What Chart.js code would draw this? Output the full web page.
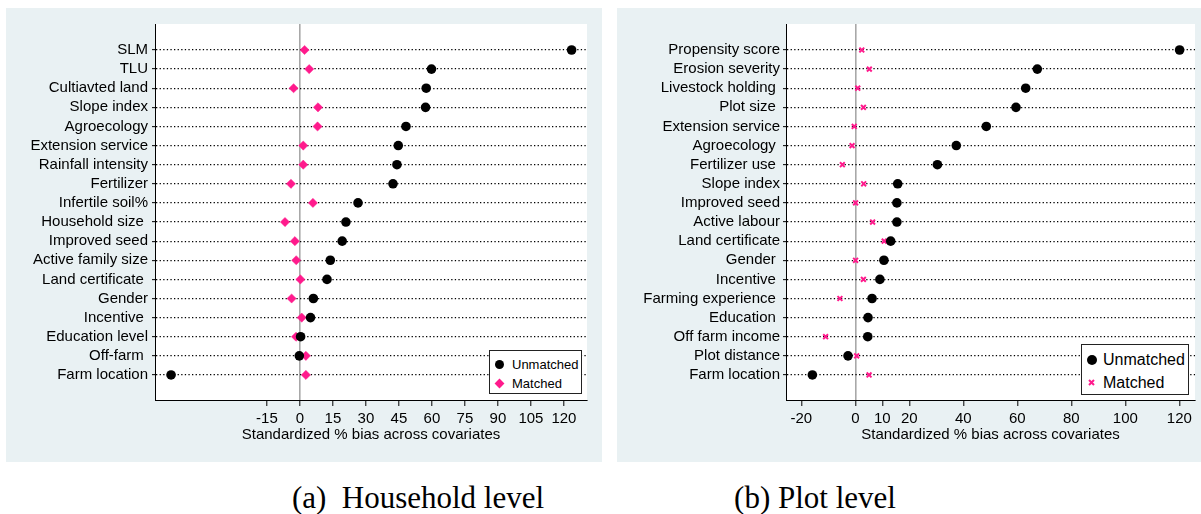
<!DOCTYPE html>
<html>
<head>
<meta charset="utf-8">
<title>Standardized % bias across covariates</title>
<script src="https://cdn.jsdelivr.net/npm/chart.js@4.4.1/dist/chart.umd.min.js"></script>
<style>
  html, body { margin: 0; padding: 0; background: #fff; }
  body {
    width: 1201px; height: 514px; position: relative; overflow: hidden;
    font-family: "Liberation Sans", Arial, sans-serif;
  }
  canvas { position: absolute; top: 8px; }
  #chart-a { left: 6px; }
  #chart-b { left: 617px; }
  .legend {
    position: absolute; background: #fff; border: 1px solid #222;
    box-sizing: border-box; color: #000;
  }
  .legend .mk, .legend .txt { position: absolute; }
  .legend .txt { white-space: nowrap; line-height: 1; transform: translateY(-50%); }
  .caption {
    position: absolute; top: 482px; line-height: 31px; font-size: 31px;
    font-family: "Liberation Serif", "Times New Roman", serif;
    white-space: pre; transform: translateX(-50%); color: #000;
  }
</style>
</head>
<body>
<canvas id="chart-a" width="596" height="454"></canvas>
<canvas id="chart-b" width="584" height="454"></canvas>
<div class="legend" id="legend-a" style="left:489px; top:350px; width:93px; height:44px;"></div>
<div class="legend" id="legend-b" style="left:1081px; top:344px; width:108px; height:51px;"></div>
<div class="caption" style="left:418px;">(a)  Household level</div>
<div class="caption" style="left:815px;">(b) Plot level</div>

<script>
// ─── Data ────────────────────────────────────────────────────────────────────

const hhLabels = [
  "SLM", "TLU", "Cultiavted land", "Slope index", "Agroecology",
  "Extension service", "Rainfall intensity", "Fertilizer", "Infertile soil%",
  "Household size ", "Improved seed", "Active family size", "Land certificate ",
  "Gender", "Incentive ", "Education level", "Off-farm ", "Farm location",
];
const hhUnmatched = [
  123.5, 59.8, 57.4, 57.1, 48.2, 44.7, 44.1, 42.3, 26.4,
  20.9, 19.2, 13.8, 12.3, 6.1, 4.8, 0.3, -0.3, -58.6,
];
const hhMatched = [
  2.1, 4.2, -2.9, 8.2, 8.0, 1.5, 1.5, -4.1, 5.9,
  -6.8, -2.3, -1.7, 0.2, -3.8, 0.8, -1.8, 2.7, 2.7,
];
const hhTicks = [-15, 0, 15, 30, 45, 60, 75, 90, 105, 120];

const plotLabels = [
  "Propensity score", "Erosion severity", "Livestock holding ", "Plot size ",
  "Extension service", "Agroecology ", "Fertilizer use ", "Slope index",
  "Improved seed", "Active labour", "Land certificate", "Gender ", "Incentive ",
  "Farming experience ", "Education ", "Off farm income", "Plot distance",
  "Farm location",
];
const plotUnmatched = [
  120.1, 67.4, 63.1, 59.5, 48.5, 37.4, 30.4, 15.7, 15.4,
  15.4, 13.1, 10.6, 9.1, 6.2, 4.7, 4.6, -2.7, -15.9,
];
const plotMatched = [
  2.4, 5.2, 0.9, 3.0, -0.4, -1.2, -4.8, 3.1, 0.1,
  6.4, 10.7, 0.1, 3.0, -5.7, 4.6, -11.0, 0.5, 5.1,
];
const plotTicks = [-20, 0, 10, 20, 40, 60, 80, 100, 120];

const seriesNames = ["Unmatched", "Matched"];
const xTitle = "Standardized % bias across covariates";

// ─── Style helpers ───────────────────────────────────────────────────────────

const FONT = "'Liberation Sans', Arial, sans-serif";
const PINK = "#ff1a8c";
const PANEL_BG = "#e9f1f3";

const panelBg = {
  id: "panelBg",
  beforeDraw(chart) {
    const { ctx, chartArea: a, width, height } = chart;
    ctx.save();
    ctx.fillStyle = PANEL_BG;
    ctx.fillRect(0, 0, width, height);
    ctx.fillStyle = "#fff";
    ctx.fillRect(a.left, a.top, a.right - a.left, a.bottom - a.top);
    ctx.restore();
  },
};

function makeChart(id, cfg) {
  const ctx = document.getElementById(id).getContext("2d");
  return new Chart(ctx, {
    type: "scatter",
    data: {
      datasets: [
        {
          label: seriesNames[0],
          data: cfg.unmatched.map((v, i) => ({ x: v, y: i })),
          pointStyle: "circle",
          pointRadius: 4.8,
          backgroundColor: "#000",
          borderColor: "#000",
          borderWidth: 0,
          order: 0,
        },
        {
          label: seriesNames[1],
          data: cfg.matched.map((v, i) => ({ x: v, y: i })),
          pointStyle: cfg.matchedStyle,
          pointRadius: cfg.matchedRadius,
          backgroundColor: PINK,
          borderColor: PINK,
          borderWidth: cfg.matchedBorder,
          order: 1,
        },
      ],
    },
    options: {
      responsive: false,
      animation: false,
      events: [],
      layout: { padding: { left: 0, top: 16, right: cfg.padRight, bottom: 0 } },
      plugins: { legend: { display: false }, tooltip: { enabled: false } },
      scales: {
        x: {
          type: "linear",
          min: cfg.xMin,
          max: cfg.xMax,
          afterBuildTicks: (s) => {
            s.ticks = cfg.ticks.map((v) => ({ value: v }));
          },
          afterFit: (s) => {
            s.height = 62;
          },
          grid: {
            drawOnChartArea: true,
            color: (c) =>
              c.tick && c.tick.value === 0 ? "#a8a8a8" : "rgba(0,0,0,0)",
            lineWidth: 1.6,
            drawTicks: true,
            tickLength: 6,
            tickColor: "#000",
            tickWidth: 1,
          },
          border: { display: true, color: "#000", width: 1 },
          ticks: {
            color: "#000",
            font: { size: 15, family: FONT },
            padding: 4,
            maxRotation: 0,
            autoSkip: false,
          },
          title: {
            display: true,
            text: xTitle,
            color: "#000",
            font: { size: 15, family: FONT },
            padding: { top: 0, bottom: 18 },
          },
        },
        y: {
          type: "linear",
          reverse: true,
          min: -1.36,
          max: 18.31,
          afterBuildTicks: (s) => {
            s.ticks = cfg.labels.map((_, i) => ({ value: i }));
          },
          afterFit: (s) => {
            s.width = cfg.yWidth;
          },
          grid: {
            color: "#000",
            lineWidth: 1.3,
            drawTicks: true,
            tickLength: 3,
            tickColor: "#000",
            tickWidth: 1,
            tickBorderDash: [],
          },
          border: { display: true, color: "#000", width: 1, dash: [1.3, 2.3] },
          ticks: {
            color: "#000",
            font: { size: 15, family: FONT },
            padding: cfg.yPad,
            autoSkip: false,
            callback: (v) => cfg.labels[v],
          },
        },
      },
    },
    plugins: [panelBg],
  });
}

// ─── Legends (html, placed over the plot) ────────────────────────────────────

function marker(kind, size) {
  if (kind === "circle")
    return `<span style="display:block;width:${size}px;height:${size}px;border-radius:50%;background:#000"></span>`;
  if (kind === "diamond")
    return `<span style="display:block;width:${size}px;height:${size}px;background:${PINK};transform:rotate(45deg)"></span>`;
  return `<svg width="${size}" height="${size}" style="display:block"><path d="M1 1L${size - 1} ${size - 1}M${size - 1} 1L1 ${size - 1}" stroke="${PINK}" stroke-width="2"/></svg>`;
}

function renderLegend(id, o) {
  const el = document.getElementById(id);
  el.innerHTML = seriesNames
    .map((name, i) => {
      const s = o.sizes[i];
      return `
      <div class="mk" style="left:${o.mx - s / 2}px;top:${o.rows[i] - s / 2}px">${marker(o.kinds[i], s)}</div>
      <div class="txt" style="left:${o.tx}px;top:${o.rows[i]}px;font-size:${o.font}px">${name}</div>`;
    })
    .join("");
}

// ─── Render ──────────────────────────────────────────────────────────────────

makeChart("chart-a", {
  labels: hhLabels,
  unmatched: hhUnmatched,
  matched: hhMatched,
  ticks: hhTicks,
  xMin: -65.9,
  xMax: 130.5,
  yWidth: 149,
  yPad: 4,
  padRight: 15,
  matchedStyle: "rectRot",
  matchedRadius: 4.6,
  matchedBorder: 0.5,
});

makeChart("chart-b", {
  labels: plotLabels,
  unmatched: plotUnmatched,
  matched: plotMatched,
  ticks: plotTicks,
  xMin: -25.67,
  xMax: 125.8,
  yWidth: 169,
  yPad: 3,
  padRight: 6,
  matchedStyle: "crossRot",
  matchedRadius: 3.4,
  matchedBorder: 2,
});

renderLegend("legend-a", {
  kinds: ["circle", "diamond"], sizes: [9, 7], rows: [13, 32],
  mx: 9, tx: 22, font: 13,
});
renderLegend("legend-b", {
  kinds: ["circle", "cross"], sizes: [10, 7], rows: [15, 37.5],
  mx: 9.5, tx: 21, font: 16,
});
</script>
</body>
</html>
